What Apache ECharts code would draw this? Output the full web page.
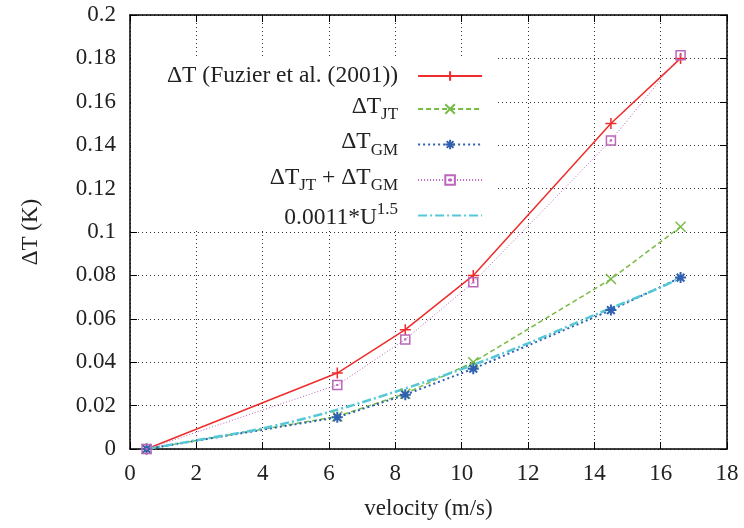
<!DOCTYPE html>
<html>
<head>
<meta charset="utf-8">
<script src="https://cdn.jsdelivr.net/npm/echarts@6/dist/echarts.min.js"></script>
<style>
  html, body { margin: 0; padding: 0; background: #fff; }
  #chart { width: 744px; height: 528px; }
</style>
</head>
<body>
<div id="chart"></div>
<script>
// data
const velocity = [0.5, 6.25, 8.3, 10.35, 14.5, 16.6];
const dtFuzier = [0, 0.035, 0.055, 0.08, 0.15, 0.18];
const dtJT = [0, 0.015, 0.0255, 0.04, 0.0783, 0.1024];
const dtGM = [0, 0.0146, 0.025, 0.037, 0.064, 0.079];
const dtSum = [0, 0.0295, 0.0505, 0.0768, 0.1422, 0.1814];
const fitVelocity = [0.5, 2, 4, 6, 8, 10, 12, 14, 16, 16.6];
const fitValues = [0, 0.004, 0.0095, 0.017, 0.0264, 0.0368, 0.0487, 0.0617, 0.0745, 0.079];
const seriesNames = ['fuzier', 'jt', 'gm', 'sum', 'fit'];

const FONT = 'Liberation Serif';
const pairs = (xs, ys) => xs.map((x, i) => [x, ys[i]]);

// legend labels with sub/superscripts
// nt = main text pinned to top (subscript rows), nb = pinned to bottom (superscript row)
const legendLabels = {
  fuzier: '{n|ΔT (Fuzier et al. (2001))}',
  jt: '{nt|ΔT}{sub|JT}',
  gm: '{nt|ΔT}{sub|GM}',
  sum: '{nt|ΔT}{sub|JT}{nt| + ΔT}{sub|GM}',
  fit: '{nb|0.0011*U}{sup|1.5}',
};

const chart = echarts.init(document.getElementById('chart'));

const frameAxis = {
  min: 0,
  axisLine: { show: true, onZero: false, lineStyle: { color: '#000', width: 1.5 } },
  axisTick: { show: true, inside: true, length: 7, lineStyle: { color: '#000' } },
};

const mainText = { fontFamily: FONT, fontSize: 23.5, color: '#222', lineHeight: 29 };
const smallText = { fontFamily: FONT, fontSize: 17, color: '#222' };

const option = {
  animation: false,
  grid: { left: 130, right: 17, top: 15, bottom: 79 },
  legend: {
    orient: 'vertical',
    left: 131,
    top: 58,
    align: 'right',
    selectedMode: false,
    itemWidth: 64,
    itemHeight: 12,
    itemGap: 6.5,
    padding: [6, 13, 1, 36],
    backgroundColor: '#fff',
    data: seriesNames.map((n) => (n === 'fit' ? { name: n, itemStyle: { opacity: 0 } } : n)),
    formatter: (name) => legendLabels[name],
    textStyle: {
      padding: [0, 15, 0, 0],
      rich: {
        n: Object.assign({ verticalAlign: 'middle' }, mainText),
        nt: Object.assign({ verticalAlign: 'top' }, mainText),
        nb: Object.assign({ verticalAlign: 'bottom' }, mainText),
        sub: Object.assign({ verticalAlign: 'bottom' }, smallText),
        sup: Object.assign({ verticalAlign: 'top' }, smallText),
      },
    },
  },
  xAxis: [
    Object.assign({}, frameAxis, {
      type: 'value',
      max: 18,
      interval: 2,
      name: 'velocity (m/s)',
      nameLocation: 'middle',
      nameGap: 48,
      nameTextStyle: { fontFamily: FONT, fontSize: 23, color: '#222' },
      axisLabel: { fontFamily: FONT, fontSize: 23, color: '#222', margin: 13 },
      splitLine: { show: true, lineStyle: { type: [1, 3], color: '#333', width: 1 } },
    }),
    Object.assign({}, frameAxis, {
      type: 'value',
      position: 'top',
      max: 18,
      interval: 2,
      axisLabel: { show: false },
      splitLine: { show: false },
    }),
  ],
  yAxis: [
    Object.assign({}, frameAxis, {
      type: 'value',
      max: 0.2,
      interval: 0.02,
      name: 'ΔT (K)',
      nameLocation: 'middle',
      nameGap: 88,
      nameTextStyle: { fontFamily: FONT, fontSize: 23, color: '#222' },
      axisLabel: { fontFamily: FONT, fontSize: 23, color: '#222', margin: 14 },
      splitLine: { show: true, lineStyle: { type: [1, 3], color: '#333', width: 1 } },
    }),
    Object.assign({}, frameAxis, {
      type: 'value',
      position: 'right',
      max: 0.2,
      interval: 0.02,
      axisLabel: { show: false },
      splitLine: { show: false },
    }),
  ],
  series: [
    {
      name: 'fuzier',
      type: 'line',
      data: pairs(velocity, dtFuzier),
      symbol: 'path://M0,5L10,5M5,0L5,10',
      symbolSize: 11,
      lineStyle: { color: '#ee2c2c', width: 1.5, type: 'solid' },
      itemStyle: { color: '#ee2c2c', borderColor: '#ee2c2c', borderWidth: 1.5 },
    },
    {
      name: 'jt',
      type: 'line',
      data: pairs(velocity, dtJT),
      symbol: 'path://M0,0L10,10M10,0L0,10',
      symbolSize: 10,
      lineStyle: { color: '#77bb44', width: 1.5, type: [5, 3] },
      itemStyle: { color: '#77bb44', borderColor: '#77bb44', borderWidth: 1.5 },
    },
    {
      name: 'gm',
      type: 'line',
      data: pairs(velocity, dtGM),
      symbol: 'path://M0,5L10,5M5,0L5,10M1.5,1.5L8.5,8.5M8.5,1.5L1.5,8.5',
      symbolSize: 11,
      lineStyle: { color: '#3060b0', width: 2, type: [2, 3] },
      itemStyle: { color: '#3060b0', borderColor: '#3060b0', borderWidth: 2 },
    },
    {
      name: 'sum',
      type: 'line',
      data: pairs(velocity, dtSum),
      // hollow square with a small dot in the middle
      symbol: 'path://M0,0L10,0L10,10L0,10Z M4.6,4.6L5.4,4.6L5.4,5.4L4.6,5.4Z',
      symbolSize: 9,
      lineStyle: { color: '#bb66bb', width: 1, type: [1, 2] },
      itemStyle: { color: 'rgba(0,0,0,0)', borderColor: '#bb66bb', borderWidth: 1.5 },
    },
    {
      name: 'fit',
      type: 'line',
      data: pairs(fitVelocity, fitValues),
      smooth: 0.3,
      symbol: 'none',
      lineStyle: { color: '#55c8d8', width: 2.5, type: [9, 3, 2, 3] },
      itemStyle: { color: '#55c8d8' },
    },
  ],
};

chart.setOption(option);
</script>
</body>
</html>
